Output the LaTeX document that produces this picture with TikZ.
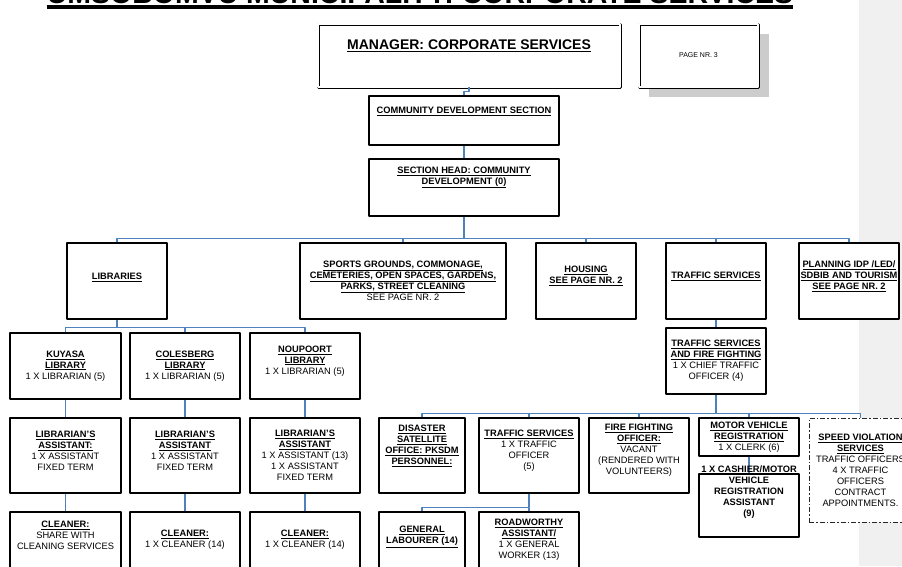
\documentclass[tikz,border=0pt]{standalone}
\usepackage{fontspec}
\setmainfont{Liberation Sans}
\usepackage{graphicx}
\usetikzlibrary{positioning}
\definecolor{linkblue}{RGB}{79,129,189}
\definecolor{bandgrey}{RGB}{240,240,240}
\definecolor{shadowgrey}{RGB}{204,204,204}
\newcommand{\orgfont}{\fontsize{9.3}{11}\selectfont}
\newcommand{\ub}[1]{\underline{\textbf{#1}}}
\tikzset{
	orgbox/.style={draw=black, line width=1.2pt, fill=white, inner sep=0pt},
	dblbox/.style={double=white, double distance=1.4pt, line width=0.8pt},
	dashbox/.style={draw=black!85, line width=1pt, fill=white, inner sep=0pt,
		dash pattern=on 5pt off 2pt on 1.5pt off 2pt},
	txt/.style={align=center, font=\orgfont, inner sep=0pt},
	link/.style={draw=linkblue, line width=1.1pt}
}
\begin{document}
\begin{tikzpicture}[x=1pt, y=-1pt, line join=round]
	\useasboundingbox (0,0) rectangle (902,566);
	\clip (0,0) rectangle (902,566);
	\fill[bandgrey] (859,0) rectangle (902,566);
	\node[anchor=base, inner sep=0pt] (title) at (420,3.5) {\resizebox{746pt}{!}{\bfseries UMSOBOMVU MUNICIPALITY: CORPORATE SERVICES}};
	\draw[line width=3.2pt] ([yshift=-3.5pt]title.base west) -- ([yshift=-3.5pt]title.base east);

	\node[orgbox, dblbox, minimum width=302, minimum height=63, label={[txt, yshift=10pt]center:{\fontsize{14}{16}\selectfont\ub{MANAGER: CORPORATE SERVICES}}}] (mgr) at (469,55.5) {};
	\fill[shadowgrey] (649,34) rectangle (769,97);
	\node[orgbox, dblbox, minimum width=119, minimum height=63, label={[txt]center:{\fontsize{7}{8}\selectfont PAGE NR. 3}}] (page) at (698.5,55.5) {};
	\node[orgbox, minimum width=190, minimum height=49, label={[txt, yshift=9pt]center:{\ub{COMMUNITY DEVELOPMENT SECTION}}}] (cds) at (464,120.5) {};
	\node[orgbox, minimum width=190, minimum height=57, label={[txt, yshift=10pt]center:{\ub{SECTION HEAD: COMMUNITY}\\\ub{DEVELOPMENT (0)}}}] (head) at (464,187.5) {};

	\node[orgbox, minimum width=100, minimum height=76, label={[txt, yshift=4pt]center:{\ub{LIBRARIES}}}] (lib) at (117,281) {};
	\node[orgbox, minimum width=206, minimum height=76, label={[txt]center:{\ub{SPORTS GROUNDS, COMMONAGE,}\\\ub{CEMETERIES, OPEN SPACES, GARDENS,}\\\ub{PARKS, STREET CLEANING}\\SEE PAGE NR. 2}}] (sport) at (403,281) {};
	\node[orgbox, minimum width=100, minimum height=76, label={[txt, yshift=5pt]center:{\ub{HOUSING}\\\ub{SEE PAGE NR. 2}}}] (hous) at (586,281) {};
	\node[orgbox, minimum width=100, minimum height=76, label={[txt, yshift=5pt]center:{\ub{TRAFFIC SERVICES}}}] (traf) at (716,281) {};
	\node[orgbox, minimum width=100, minimum height=76, label={[txt, yshift=5pt]center:{\ub{PLANNING IDP /LED/}\\\ub{SDBIB AND TOURISM}\\\ub{SEE PAGE NR. 2}}}] (plan) at (849,281) {};

	\node[orgbox, minimum width=111, minimum height=66, label={[txt]center:{\ub{KUYASA}\\\ub{LIBRARY}\\1 X LIBRARIAN (5)}}] (kuy) at (65.5,366) {};
	\node[orgbox, minimum width=110, minimum height=66, label={[txt]center:{\ub{COLESBERG}\\\ub{LIBRARY}\\1 X LIBRARIAN (5)}}] (col) at (185,366) {};
	\node[orgbox, minimum width=110, minimum height=66, label={[txt, yshift=5pt]center:{\ub{NOUPOORT}\\\ub{LIBRARY}\\1 X LIBRARIAN (5)}}] (nou) at (305,366) {};

	\node[orgbox, minimum width=111, minimum height=75, label={[txt, yshift=5pt]center:{\ub{LIBRARIAN'S}\\\ub{ASSISTANT:}\\1 X ASSISTANT\\FIXED TERM}}] (kuyA) at (65.5,455.5) {};
	\node[orgbox, minimum width=110, minimum height=75, label={[txt, yshift=5pt]center:{\ub{LIBRARIAN'S}\\\ub{ASSISTANT}\\1 X ASSISTANT\\FIXED TERM}}] (colA) at (185,455.5) {};
	\node[orgbox, minimum width=110, minimum height=75, label={[txt]center:{\ub{LIBRARIAN'S}\\\ub{ASSISTANT}\\1 X ASSISTANT (13)\\1 X ASSISTANT\\FIXED TERM}}] (nouA) at (305,455.5) {};

	\node[orgbox, minimum width=111, minimum height=60, label={[txt, yshift=7pt]center:{\ub{CLEANER:}\\SHARE WITH\\CLEANING SERVICES}}] (kuyC) at (65.5,542) {};
	\node[orgbox, minimum width=110, minimum height=60, label={[txt, yshift=2pt]center:{\ub{CLEANER:}\\1 X CLEANER (14)}}] (colC) at (185,542) {};
	\node[orgbox, minimum width=110, minimum height=60, label={[txt, yshift=2pt]center:{\ub{CLEANER:}\\1 X CLEANER (14)}}] (nouC) at (305,542) {};

	\node[orgbox, minimum width=100, minimum height=66, label={[txt]center:{\ub{TRAFFIC SERVICES}\\\ub{AND FIRE FIGHTING}\\1 X CHIEF TRAFFIC\\OFFICER (4)}}] (tsff) at (716,361) {};
	\node[orgbox, minimum width=86, minimum height=75, label={[txt, yshift=10pt]center:{\ub{DISASTER}\\\ub{SATELLITE}\\\ub{OFFICE: PKSDM}\\\ub{PERSONNEL:}}}] (dis) at (422,455.5) {};
	\node[orgbox, minimum width=100, minimum height=75, label={[txt, yshift=5pt]center:{\ub{TRAFFIC SERVICES}\\1 X TRAFFIC\\OFFICER\\(5)}}] (tsv) at (529,455.5) {};
	\node[orgbox, minimum width=100, minimum height=75, label={[txt, yshift=5pt]center:{\ub{FIRE FIGHTING}\\\ub{OFFICER:}\\VACANT\\(RENDERED WITH\\VOLUNTEERS)}}] (fire) at (639,455.5) {};
	\node[orgbox, minimum width=100, minimum height=38, label={[txt]center:{\ub{MOTOR VEHICLE}\\\ub{REGISTRATION}\\1 X CLERK (6)}}] (mvr) at (749,437) {};
	\node[orgbox, minimum width=100, minimum height=63] (cash) at (749,505.5) {};
	\node[dashbox, minimum width=103, minimum height=104, label={[txt]center:{\ub{SPEED VIOLATION}\\\ub{SERVICES}\\TRAFFIC OFFICERS\\4 X TRAFFIC\\OFFICERS\\CONTRACT\\APPOINTMENTS.}}] (speed) at (860.5,470) {};
	\node[orgbox, minimum width=86, minimum height=60, label={[txt, yshift=5pt]center:{\ub{GENERAL}\\\ub{LABOURER (14)}}}] (gen) at (422,542) {};
	\node[orgbox, minimum width=100, minimum height=60, label={[txt, yshift=2pt]center:{\ub{ROADWORTHY}\\\ub{ASSISTANT/}\\1 X GENERAL\\WORKER (13)}}] (road) at (529,542) {};

	\draw[link] (mgr.south) -- ++(0,4) -| (cds.north);
	\foreach \a/\b in {cds/head, kuy/kuyA, kuyA/kuyC, col/colA, colA/colC, nou/nouA, nouA/nouC, traf/tsff, mvr/cash}
		\draw[link] (\a) -- (\b);
	\draw[link] (head.south) -- ([yshift=4pt]head.south |- lib.north);
	\draw[link] (lib.north) -- ++(0,-4) -| (plan.north);
	\foreach \b in {sport, hous, traf}
		\draw[link] (\b.north) -- ++(0,-4);
	\draw[link] (lib.south) -- ([yshift=5pt]lib.south |- kuy.north);
	\draw[link] (kuy.north) -- ++(0,-5) -| (nou.north);
	\draw[link] (col.north) -- ++(0,-5);
	\draw[link] (tsff.south) -- ([yshift=4pt]tsff.south |- dis.north);
	\draw[link] (dis.north) -- ++(0,-4) -| (speed.north);
	\foreach \b in {tsv, fire, mvr}
		\draw[link] (\b.north) -- ++(0,-4);
	\draw[link] (tsv.south) -- ([yshift=4pt]tsv.south |- gen.north);
	\draw[link] (gen.north) -- ++(0,-4) -| (road.north);
	\node[txt, anchor=center, yshift=13pt] (cashT) at (cash) {\ub{1 X CASHIER/MOTOR}\\\textbf{VEHICLE}\\\textbf{REGISTRATION}\\\textbf{ASSISTANT}\\\textbf{(9)}};
\end{tikzpicture}
\end{document}
